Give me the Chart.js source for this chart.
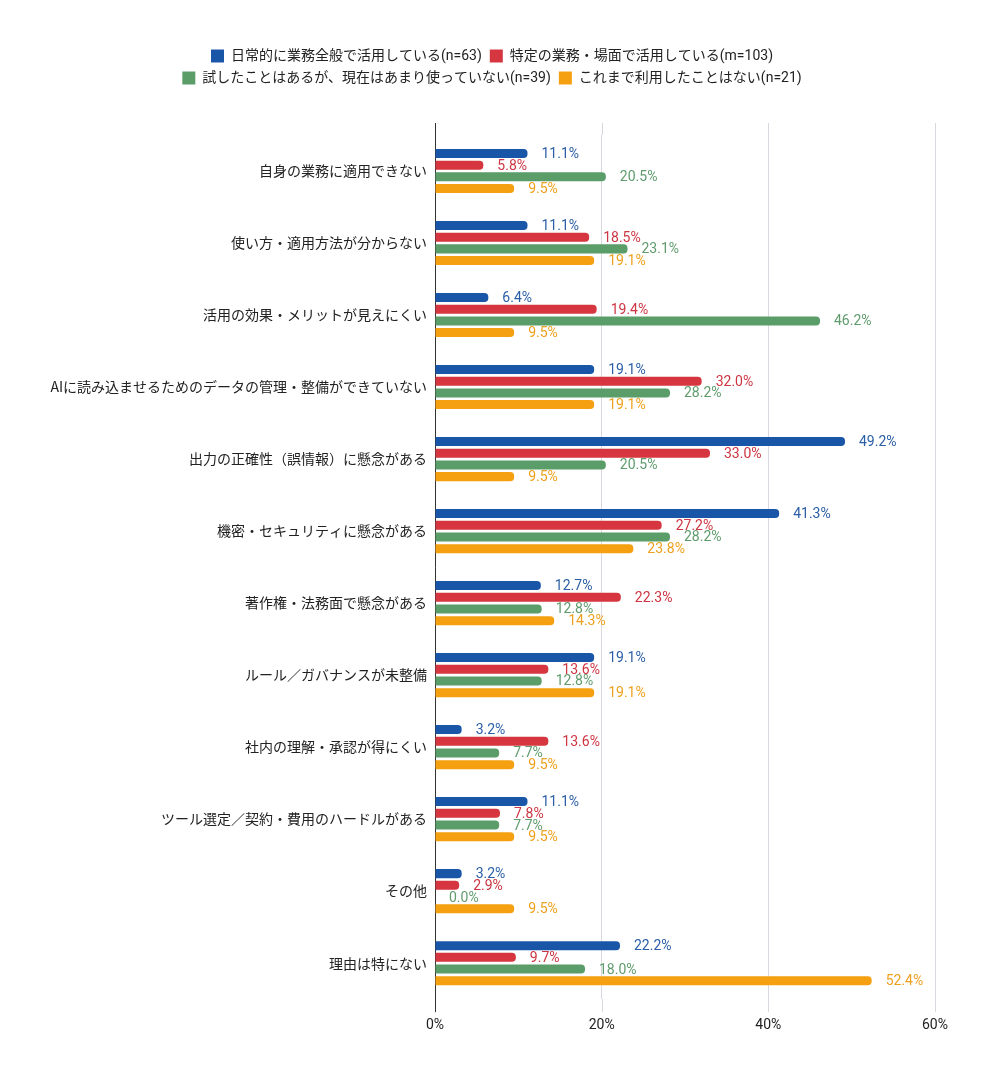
<!DOCTYPE html>
<html>
<head>
<meta charset="utf-8">
<script src="https://cdn.jsdelivr.net/npm/chart.js@4"></script>
<style>
  body { margin: 0; background: #fff; }
  #wrap { width: 986px; height: 1080px; }
</style>
</head>
<body>
<div id="wrap"><canvas id="reasonChart"></canvas></div>
<script>
// categories (reasons)
const categories = [
    '自身の業務に適用できない',
    '使い方・適用方法が分からない',
    '活用の効果・メリットが見えにくい',
    'AIに読み込ませるためのデータの管理・整備ができていない',
    '出力の正確性（誤情報）に懸念がある',
    '機密・セキュリティに懸念がある',
    '著作権・法務面で懸念がある',
    'ルール／ガバナンスが未整備',
    '社内の理解・承認が得にくい',
    'ツール選定／契約・費用のハードルがある',
    'その他',
    '理由は特にない'
];

const seriesNames = [
    '日常的に業務全般で活用している(n=63)',
    '特定の業務・場面で活用している(m=103)',
    '試したことはあるが、現在はあまり使っていない(n=39)',
    'これまで利用したことはない(n=21)'
];

// percentages per series
const dailyUse    = [11.1, 11.1, 6.4, 19.1, 49.2, 41.3, 12.7, 19.1, 3.2, 11.1, 3.2, 22.2];
const specificUse = [5.8, 18.5, 19.4, 32.0, 33.0, 27.2, 22.3, 13.6, 13.6, 7.8, 2.9, 9.7];
const triedOnly   = [20.5, 23.1, 46.2, 28.2, 20.5, 28.2, 12.8, 12.8, 7.7, 7.7, 0.0, 18.0];
const neverUsed   = [9.5, 19.1, 9.5, 19.1, 9.5, 23.8, 14.3, 19.1, 9.5, 9.5, 9.5, 52.4];

const xTicks = [0, 20, 40, 60];

const barColors   = ['#1a56a8', '#d6363f', '#5a9d69', '#f5a011'];
const labelColors = ['#2a5ea6', '#cc3541', '#5f9b6c', '#eea11f'];
const gridColor = '#dbd7e1';
const axisColor = '#333333';
const fontFamily = "Roboto, 'Noto Sans CJK JP', sans-serif";

// value labels at the end of each bar
const valueLabels = {
    id: 'valueLabels',
    afterDatasetsDraw(chart) {
        const ctx = chart.ctx;
        ctx.save();
        ctx.font = '14px ' + fontFamily;
        ctx.textBaseline = 'middle';
        ctx.textAlign = 'left';
        chart.data.datasets.forEach((ds, di) => {
            const meta = chart.getDatasetMeta(di);
            ctx.fillStyle = labelColors[di];
            meta.data.forEach((bar, i) => {
                ctx.fillText(ds.data[i].toFixed(1) + '%', bar.x + 14, bar.y + 1);
            });
        });
        ctx.restore();
    }
};

// grid lines run a bit past the plot area at top and bottom
const gridExtend = {
    id: 'gridExtend',
    beforeDatasetsDraw(chart) {
        const ctx = chart.ctx;
        const area = chart.chartArea;
        const x = chart.scales.x;
        ctx.save();
        ctx.lineWidth = 1;
        x.ticks.forEach(t => {
            const px = Math.round(x.getPixelForValue(t.value)) + 0.5;
            ctx.strokeStyle = t.value === 0 ? axisColor : gridColor;
            ctx.beginPath();
            ctx.moveTo(px, area.top - 12);
            ctx.lineTo(px, area.top);
            ctx.moveTo(px, area.bottom);
            ctx.lineTo(px, area.bottom + 13);
            ctx.stroke();
        });
        ctx.restore();
    }
};

// extra space under the legend
const legendGap = {
    id: 'legendGap',
    beforeInit(chart) {
        const origFit = chart.legend.fit;
        chart.legend.fit = function () {
            origFit.bind(chart.legend)();
            this.height += 40;
        };
    }
};

const ctx = document.getElementById('reasonChart').getContext('2d');
const chart = new Chart(ctx, {
    type: 'bar',
    data: {
        labels: categories,
        datasets: [dailyUse, specificUse, triedOnly, neverUsed].map((vals, i) => ({
            label: seriesNames[i],
            data: vals,
            backgroundColor: barColors[i],
            borderRadius: 4,
            borderSkipped: 'start',
            categoryPercentage: 0.65,
            barPercentage: 0.77
        }))
    },
    options: {
        indexAxis: 'y',
        responsive: true,
        maintainAspectRatio: false,
        animation: false,
        layout: {
            padding: { top: 41, left: 49, right: 51, bottom: 28 }
        },
        plugins: {
            legend: {
                position: 'top',
                labels: {
                    boxWidth: 13,
                    boxHeight: 13,
                    padding: 8,
                    color: '#222',
                    font: { size: 14, family: fontFamily }
                }
            },
            tooltip: { enabled: false }
        },
        scales: {
            x: {
                min: 0,
                max: 60,
                afterBuildTicks(scale) {
                    scale.ticks = xTicks.map(v => ({ value: v }));
                },
                ticks: {
                    callback: v => v + '%',
                    color: '#222',
                    padding: 18,
                    font: { size: 14, family: fontFamily }
                },
                grid: { color: gridColor, drawTicks: false },
                border: { display: false }
            },
            y: {
                afterFit(scale) {
                    scale.width = 386;
                },
                ticks: {
                    color: '#222',
                    padding: 8,
                    font: { size: 14, family: "'Noto Sans CJK JP', sans-serif" }
                },
                grid: { display: false, drawTicks: false },
                border: { display: true, color: axisColor, width: 1 }
            }
        }
    },
    plugins: [valueLabels, gridExtend, legendGap]
});
</script>
</body>
</html>
